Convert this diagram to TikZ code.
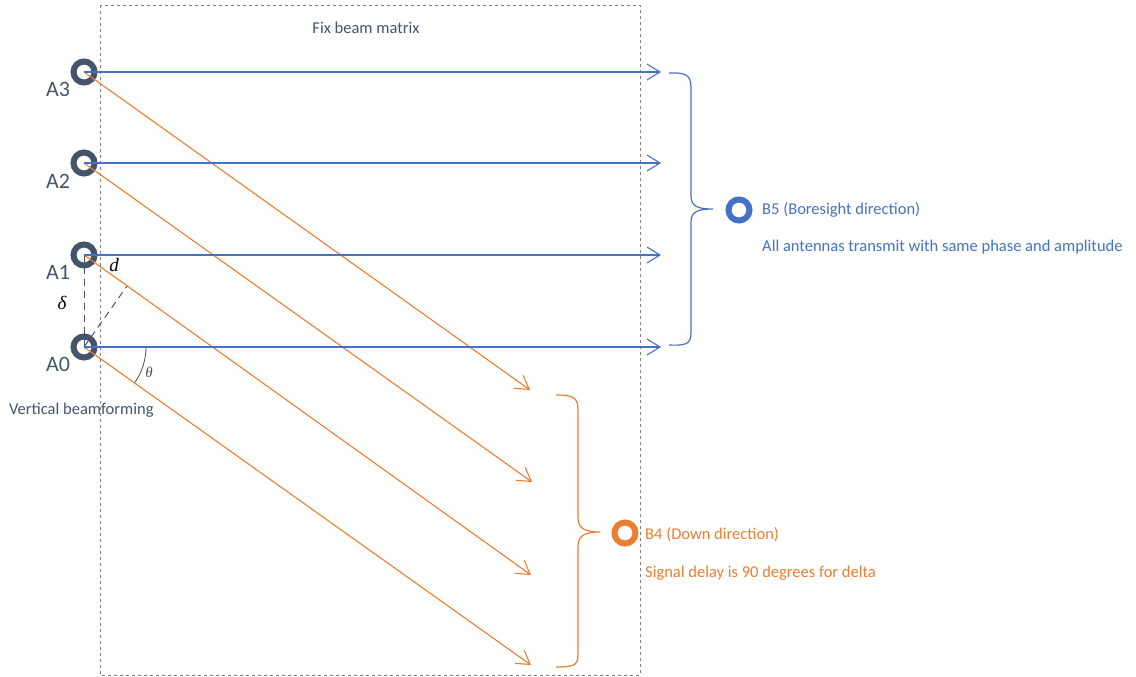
\documentclass[tikz,border=0pt]{standalone}
\usepackage{fontspec}
\setmainfont{Carlito}
\newfontfamily\symbolfont{Liberation Serif}
\usetikzlibrary{arrows.meta}
\definecolor{slate}{HTML}{44546A}
\definecolor{beamblue}{HTML}{4472C4}
\definecolor{beamorange}{HTML}{ED7D31}
\definecolor{framegray}{HTML}{7F7F7F}
\begin{document}
\begin{tikzpicture}[x=1pt,y=-1pt,
  antenna/.style={circle,draw=slate,line width=6pt,minimum size=21pt,inner sep=0pt},
  beamport/.style={circle,line width=6pt,minimum size=21pt,inner sep=0pt},
  alabel/.style={text=slate,font=\fontsize{22}{26}\selectfont,inner sep=0pt},
  bodytext/.style={font=\fontsize{16.5}{19}\selectfont,inner sep=0pt,anchor=west},
  symb/.style={font=\symbolfont\itshape\fontsize{19}{21}\selectfont,inner sep=0pt},
  ray/.style={line width=1.1pt,-{Straight Barb[length=13pt,width=16pt,line width=1.1pt]}},
  helper/.style={slate,line width=1pt,dash pattern=on 7pt off 5pt},
  brace/.style={line width=1.2pt}
]
\useasboundingbox (0,0) rectangle (1136,677);

% fixed beam matrix frame
\draw[framegray,dashed,line width=0.8pt] (100,5) rectangle (640,675);
\node[text=slate,font=\fontsize{16.5}{19}\selectfont] (title) at (366,28) {Fix beam matrix};

% antenna elements
\node[antenna] (a3) at (84,72) {};
\node[antenna] (a2) at (84,163) {};
\node[antenna] (a1) at (84,255) {};
\node[antenna] (a0) at (84,347) {};
\node[alabel] (l3) at (58,89) {A3};
\node[alabel] (l2) at (58,181) {A2};
\node[alabel] (l1) at (58,272) {A1};
\node[alabel] (l0) at (58,364) {A0};
\node[bodytext,text=slate] (vb) at (9,410) {Vertical beamforming};

% boresight ray ends
\coordinate (b3) at (661,72);
\coordinate (b2) at (661,163);
\coordinate (b1) at (661,255);
\coordinate (b0) at (661,347);
% down ray ends
\coordinate (d3) at (530,390);
\coordinate (d2) at (532,482);
\coordinate (d1) at (531,575);
\coordinate (d0) at (531,665);

% geometry helpers: element spacing, path difference and steering angle
\coordinate (foot) at (127,286);
\draw[helper] (a1.center) -- (a0.center);
\draw[helper] (a0.center) -- (foot);
\draw[slate,line width=0.8pt] (146,347) arc[start angle=0,end angle=35.5,radius=62];
\node[symb,text=black] (delta) at (62,303) {δ};
\node[symb,text=black] (dd) at (114,265) {d};
\node[symb,text=slate,font=\symbolfont\itshape\fontsize{15}{17}\selectfont] (theta) at (149,372) {θ};

% rays
\foreach \i in {0,1,2,3} {
  \draw[ray,beamorange] (a\i.center) -- (d\i);
}
\foreach \i in {0,1,2,3} {
  \draw[ray,beamblue] (a\i.center) -- (b\i);
}

% boresight brace and beam
\draw[brace,beamblue] (669,73) .. controls (691,72) and (691,78) .. (691,92) -- (691,196)
  .. controls (691,207) and (699,209) .. (713,209)
  .. controls (699,209) and (691,211) .. (691,222) -- (691,328)
  .. controls (691,342) and (691,346) .. (669,345);
\node[beamport,draw=beamblue] (b5) at (739,210) {};
\node[bodytext,text=beamblue] (b5t) at (762,210) {B5 (Boresight direction)};
\node[bodytext,text=beamblue] (b5d) at (762,247) {All antennas transmit with same phase and amplitude};

% down brace and beam
\draw[brace,beamorange] (556,395) .. controls (578,395) and (578,400) .. (578,414) -- (578,518)
  .. controls (578,529) and (586,532) .. (600,532)
  .. controls (586,532) and (578,535) .. (578,546) -- (578,650)
  .. controls (578,664) and (578,667) .. (556,667);
\node[beamport,draw=beamorange] (b4) at (625,533) {};
\node[bodytext,text=beamorange] (b4t) at (645,535) {B4 (Down direction)};
\node[bodytext,text=beamorange] (b4d) at (645,573) {Signal delay is 90 degrees for delta};
\end{tikzpicture}
\end{document}
